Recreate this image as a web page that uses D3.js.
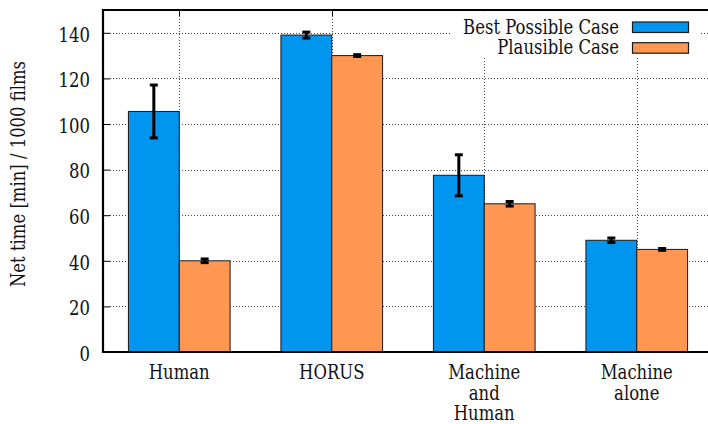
<!DOCTYPE html>
<html>
<head>
<meta charset="utf-8">
<script src="https://cdn.jsdelivr.net/npm/d3@7/dist/d3.min.js"></script>
<style>
  html, body { margin: 0; padding: 0; background: #fff; overflow: hidden; }
  svg { display: block; }
</style>
</head>
<body>
<svg id="chart" width="708" height="424"></svg>
<script>
// Categories (multi-line labels split on "\n")
const categories = ["Human", "HORUS", "Machine\nand\nHuman", "Machine\nalone"];
const seriesNames = ["Best Possible Case", "Plausible Case"];
const seriesColors = ["#0095ef", "#ff9651"];

// Net time per 1000 films, with error half-widths
const bestValues = [105.5, 139.0, 77.5, 49.0];
const bestErrors = [11.6, 1.3, 9.0, 1.0];
const plausibleValues = [40.0, 130.0, 65.0, 45.0];
const plausibleErrors = [0.8, 0.4, 1.0, 0.4];

const yTicks = [0, 20, 40, 60, 80, 100, 120, 140];
const yLabel = "Net time [min] / 1000 films";

const FONT = "'DejaVu Serif', serif";
const FONT_SIZE = 19.5;

const svg = d3.select("#chart");

// Narrow the serif face horizontally so the first legend entry spans about 156px
const probe = svg.append("text").style("font-family", FONT).style("font-size", FONT_SIZE + "px").text(seriesNames[0]);
const SX = Math.min(1, 156 / probe.node().getComputedTextLength());
probe.remove();

const plot = { left: 103, right: 713, top: 10, bottom: 352 };

const x = d3.scaleLinear().domain([-0.5, 3.5]).range([plot.left, plot.right]);
const y = d3.scaleLinear().domain([0, 150]).range([plot.bottom, plot.top]);
const barW = x(1 / 3) - x(0);

const series = [
  { name: seriesNames[0], values: bestValues, errors: bestErrors, color: seriesColors[0], side: -1 },
  { name: seriesNames[1], values: plausibleValues, errors: plausibleErrors, color: seriesColors[1], side: 1 }
];

function styleText(sel) {
  return sel.style("font-family", FONT).style("font-size", FONT_SIZE + "px").attr("fill", "#111");
}
// Text placed at (px, py) in the parent, condensed by SX around its anchor
function placeText(parent, px, py, extra = "") {
  const g = parent.append("g").attr("transform", `translate(${px},${py}) ${extra} scale(${SX},1)`);
  return styleText(g.append("text"));
}

// Dotted grid behind the bars
const grid = svg.append("g").attr("stroke", "#444").attr("stroke-width", 1).attr("stroke-dasharray", "1,2");
grid.selectAll("line.h").data(yTicks.filter(d => d > 0)).join("line")
  .attr("class", "h")
  .attr("x1", plot.left + 7).attr("x2", plot.right)
  .attr("y1", d => Math.round(y(d)) + 0.5).attr("y2", d => Math.round(y(d)) + 0.5);
grid.selectAll("line.v").data(categories.map((c, i) => i)).join("line")
  .attr("class", "v")
  .attr("x1", d => Math.round(x(d)) + 0.5).attr("x2", d => Math.round(x(d)) + 0.5)
  .attr("y1", plot.top + 6).attr("y2", plot.bottom);

// Bars: blue to the left of each category centre, orange to the right
series.forEach(s => {
  svg.append("g").selectAll("rect").data(s.values).join("rect")
    .attr("x", (d, i) => s.side < 0 ? x(i) - barW : x(i))
    .attr("y", d => y(d))
    .attr("width", barW)
    .attr("height", d => y(0) - y(d))
    .attr("fill", s.color)
    .attr("stroke", "#1a1a1a")
    .attr("stroke-width", 1);
});

// Error bars
series.forEach(s => {
  const g = svg.append("g").attr("stroke", "#000");
  s.values.forEach((v, i) => {
    const cx = x(i) + s.side * barW / 2;
    const lo = y(v - s.errors[i]), hi = y(v + s.errors[i]);
    g.append("line").attr("x1", cx).attr("x2", cx).attr("y1", lo).attr("y2", hi).attr("stroke-width", 3);
    [lo, hi].forEach(yy => g.append("line")
      .attr("x1", cx - 4).attr("x2", cx + 4).attr("y1", yy).attr("y2", yy).attr("stroke-width", 3));
  });
});

// Y axis: inward ticks and labels
const yAxis = d3.axisLeft(y).tickValues(yTicks).tickSize(-7).tickPadding(13).tickFormat(d3.format("d"));
const ya = svg.append("g").attr("transform", `translate(${plot.left},0)`).call(yAxis)
  .attr("font-family", null).attr("font-size", null);
ya.select(".domain").remove();
ya.selectAll(".tick line").attr("stroke", "#000").attr("stroke-width", 1);
styleText(ya.selectAll(".tick text"))
  .attr("x", -13 / SX)
  .attr("dy", "0.42em")
  .attr("transform", `scale(${SX},1)`);

// Mirror ticks on the top border at category centres
svg.append("g").selectAll("line").data(categories.map((c, i) => i)).join("line")
  .attr("x1", d => Math.round(x(d)) + 0.5).attr("x2", d => Math.round(x(d)) + 0.5)
  .attr("y1", plot.top).attr("y2", plot.top + 6)
  .attr("stroke", "#000").attr("stroke-width", 1);

// Frame
svg.append("path")
  .attr("d", `M${plot.right},${plot.top}H${plot.left}V${plot.bottom}H${plot.right}`)
  .attr("fill", "none").attr("stroke", "#000").attr("stroke-width", 2.2);

// Category labels
const xl = svg.append("g");
categories.forEach((c, i) => {
  const t = placeText(xl, x(i), 379).attr("text-anchor", "middle");
  c.split("\n").forEach((line, k) => {
    t.append("tspan").attr("x", 0).attr("dy", k === 0 ? 0 : 20.7).text(line);
  });
});

// Y axis title
placeText(svg, 25, 174, "rotate(-90)")
  .attr("text-anchor", "middle")
  .text(yLabel);

// Legend on an opaque background
const legend = svg.append("g");
legend.append("rect").attr("x", 452).attr("y", plot.top + 1.2).attr("width", 248).attr("height", 47).attr("fill", "#fff");
series.forEach((s, k) => {
  const yy = 22 + k * 20.7;
  legend.append("rect").attr("x", 632.5).attr("y", yy).attr("width", 56).attr("height", 10.5)
    .attr("fill", s.color).attr("stroke", "#1a1a1a").attr("stroke-width", 1.2);
  placeText(legend, 619, yy + 11.7).attr("text-anchor", "end").text(s.name);
});
</script>
</body>
</html>
